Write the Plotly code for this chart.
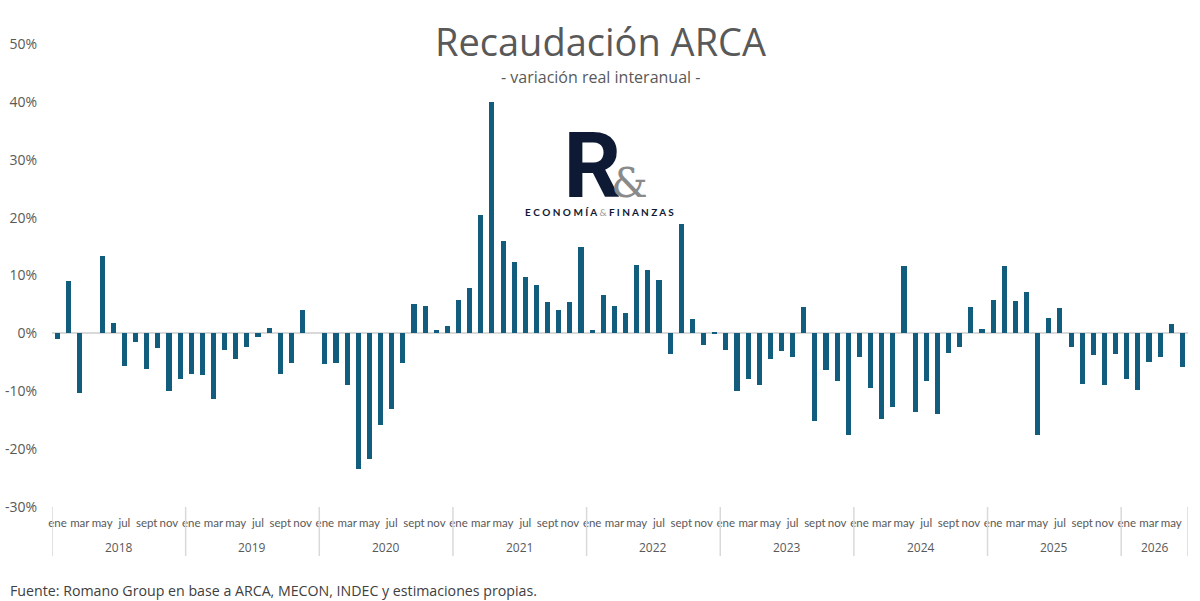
import plotly.graph_objects as go

years = [2018, 2019, 2020, 2021, 2022, 2023, 2024, 2025, 2026]
month_names = ["ene", "feb", "mar", "abr", "may", "jun", "jul", "ago", "sept", "oct", "nov", "dic"]
shown_months = ["ene", "mar", "may", "jul", "sept", "nov"]

v2018 = [-0.9, 9.0, -10.3, 0.0, 13.4, 1.8, -5.7, -1.5, -6.1, -2.6, -10.0, -7.9]
v2019 = [-7.0, -7.2, -11.3, -2.9, -4.4, -2.4, -0.6, 1.0, -7.1, -5.2, 4.0, 0.0]
v2020 = [-5.3, -5.2, -8.9, -23.4, -21.7, -15.9, -13.0, -5.2, 5.1, 4.7, 0.6, 1.3]
v2021 = [5.7, 7.9, 20.5, 40.0, 15.9, 12.4, 9.8, 8.3, 5.5, 4.1, 5.4, 14.9]
v2022 = [0.5, 6.7, 4.7, 3.6, 11.8, 10.9, 9.2, -3.6, 18.9, 2.4, -2.0, 0.2]
v2023 = [-2.8, -10.0, -7.9, -9.0, -4.4, -3.0, -4.1, 4.5, -15.2, -6.3, -8.3, -17.6]
v2024 = [-4.1, -9.4, -14.8, -12.8, 11.7, -13.6, -8.3, -14.0, -3.4, -2.4, 4.5, 0.7]
v2025 = [5.7, 11.7, 5.6, 7.1, -17.5, 2.6, 4.4, -2.3, -8.8, -3.7, -8.9, -3.6]
v2026 = [-7.9, -9.8, -4.9, -4.0, 1.6, -5.8]

series_by_year = [v2018, v2019, v2020, v2021, v2022, v2023, v2024, v2025, v2026]
y_ticks = [-30, -20, -10, 0, 10, 20, 30, 40, 50]

values = []
months = []
year_of = []
for yr, vals in zip(years, series_by_year):
    for i, v in enumerate(vals):
        values.append(v)
        months.append(month_names[i])
        year_of.append(yr)

x = list(range(len(values)))
n = len(values)

GRAY = "#595959"
FONT = "Open Sans"
BAR = "#125d7e"

W, H = 1200, 601
plot_left, plot_right = 52, 1188
plot_top, plot_bottom = 44, 507
pw = plot_right - plot_left
ph = plot_bottom - plot_top

def px(pix):
    return (pix - plot_left) / pw

def py(pix):
    return (plot_bottom - pix) / ph

fig = go.Figure()
fig.add_trace(go.Bar(
    x=x, y=values, width=0.46,
    marker=dict(color=BAR, line=dict(width=0)),
    hovertemplate="%{customdata}: %{y:.1f}%<extra></extra>",
    customdata=[f"{m} {y}" for m, y in zip(months, year_of)],
))

tickvals = [i for i, m in enumerate(months) if m in shown_months]
ticktext = [months[i] for i in tickvals]

shapes = []
bounds = [-0.5]
count = 0
for vals in series_by_year:
    count += len(vals)
    bounds.append(count - 0.5)
for b in bounds:
    shapes.append(dict(type="line", xref="x", yref="paper", x0=b, x1=b,
                       y0=py(556), y1=py(507), line=dict(color="#d9d9d9", width=1.5)))

annotations = []
start = 0
for yr, vals in zip(years, series_by_year):
    c = start + (len(vals) - 1) / 2
    annotations.append(dict(x=c, y=py(547), xref="x", yref="paper", text=str(yr),
                            showarrow=False, font=dict(family=FONT, size=12, color=GRAY),
                            xanchor="center", yanchor="middle"))
    start += len(vals)

# title & subtitle
annotations.append(dict(x=px(600), y=py(41), xref="paper", yref="paper", text="Recaudación ARCA",
                        showarrow=False, font=dict(family=FONT, size=38, color=GRAY),
                        xanchor="center", yanchor="middle"))
annotations.append(dict(x=px(600), y=py(77), xref="paper", yref="paper", text="- variación real interanual -",
                        showarrow=False, font=dict(family=FONT, size=16, color=GRAY),
                        xanchor="center", yanchor="middle"))
# logo as one two-line text
logo_line1 = ("<span style='font-size:6px'>&nbsp;&nbsp;&nbsp;&nbsp;&nbsp;&nbsp;&nbsp;&nbsp;</span>"
              "<span style='font-family:Roboto;font-size:90px;font-weight:bold;fill:#0e1a33;"
              "letter-spacing:-10px'>R</span>"
              "<span style='font-family:DejaVu Serif;font-size:41px;fill:#8a8a8a'>&amp;</span>")
logo_line2 = ("<span style='font-size:10px;font-weight:bold'>E C O N O M Í A "
              "<span style='fill:#9a9a9a;font-weight:normal'>&amp;</span> F I N A N Z A S</span>")
annotations.append(dict(x=px(599), y=py(221), xref="paper", yref="paper",
                        text=logo_line1 + "<br>" + logo_line2, align="center",
                        showarrow=False, font=dict(family="Lato", size=14.6, color="#0e1a33"),
                        xanchor="center", yanchor="bottom"))
# source
annotations.append(dict(x=px(8), y=py(590), xref="paper", yref="paper",
                        text="Fuente: Romano Group en base a ARCA, MECON, INDEC y estimaciones propias.",
                        showarrow=False, font=dict(family=FONT, size=14.2, color="#404040"),
                        xanchor="left", yanchor="middle"))

fig.update_layout(
    width=W, height=H,
    margin=dict(l=plot_left, r=W - plot_right, t=plot_top, b=H - plot_bottom, autoexpand=False),
    paper_bgcolor="white", plot_bgcolor="white",
    showlegend=False,
    bargap=0,
    xaxis=dict(range=[-0.5, n - 0.5], tickmode="array", tickvals=tickvals, ticktext=ticktext,
               tickangle=0, showgrid=False, zeroline=False, showline=False, ticks="",
               automargin=False,
               tickfont=dict(family="Lato", size=11.5, color=GRAY), ticklabelstandoff=7),
    yaxis=dict(range=[-30, 50], tickmode="array", tickvals=y_ticks,
               ticktext=[f"{t}%" for t in y_ticks], showgrid=False,
               zeroline=True, zerolinecolor="#d9d9d9", zerolinewidth=2,
               showline=False, ticks="", ticklabelstandoff=14, automargin=False,
               tickfont=dict(family=FONT, size=14, color=GRAY)),
    shapes=shapes, annotations=annotations,
)

fig.write_html("out.html")
